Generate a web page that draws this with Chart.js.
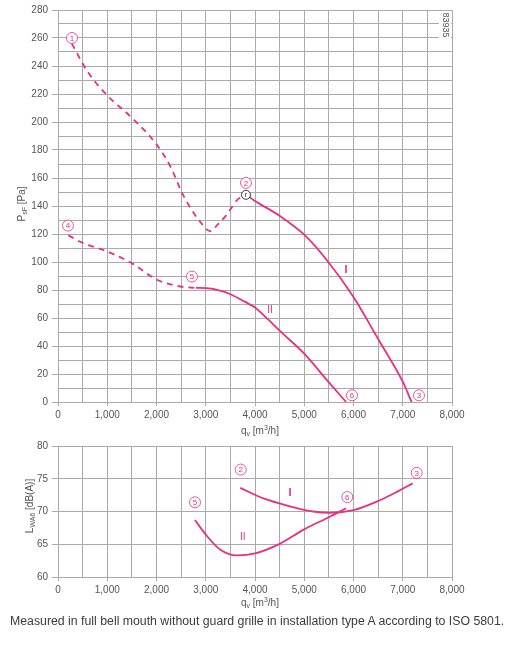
<!DOCTYPE html>
<html>
<head>
<meta charset="utf-8">
<script src="https://cdn.jsdelivr.net/npm/chart.js@4"></script>
<style>
  body { margin: 0; background: #fff; width: 528px; height: 651px; position: relative; overflow: hidden; }
  canvas { position: absolute; left: 0; }
  #top { top: 0; }
  #bottom { top: 435px; }
  #note { position: absolute; left: 10px; top: 614px; font: 12.3px "Liberation Sans", Arial, sans-serif; color: #3c3c3c; white-space: nowrap; }
</style>
</head>
<body>
<canvas id="top" width="528" height="440"></canvas>
<canvas id="bottom" width="528" height="180"></canvas>
<div id="note">Measured in full bell mouth without guard grille in installation type A according to ISO 5801.</div>
<script>
// pressure curves (q_v m3/h, p_sF Pa)
const curve1Dashed = [[280,256],[600,236],[1000,219],[1500,203],[2000,184],[2300,167],[2510,150],[2650,141],[2880,129],[3090,122],[3250,127],[3430,134],[3630,144],[3820,148]];
const curve1Solid = [[3820,148],[4000,143.6],[4500,133],[5000,119.5],[5500,99.5],[6000,75],[6500,45],[7000,14.5],[7180,0]];
const curve2Dashed = [[210,119],[510,113.5],[1000,107.5],[1530,98.5],[2000,87.5],[2480,82.5],[2800,81.5]];
const curve2Solid = [[2800,81.5],[3020,81.3],[3290,79.6],[3500,77],[3800,71.5],[4000,67.5],[4250,59.5],[4500,51],[5000,34.5],[5500,14],[5850,0]];

// sound power curves (q_v m3/h, L_WA6 dB(A))
const sound1 = [[3700,73.6],[4170,72],[4710,70.8],[5180,70],[5520,69.8],[6000,70.2],[6470,71.5],[6880,73],[7200,74.3]];
const sound2 = [[2780,68.7],[3020,66.3],[3290,64.2],[3630,63.3],[4000,63.6],[4510,65.1],[4980,67.2],[5520,69.2],[5850,70.5]];

// marker labels [text, x, y]
const topMarks = [['1',284,260],['2',3817,156.5],['3',7330,4.8],['4',203,126],['5',2720,89.6],['6',5970,4.8]];
const topRoman = [['I',5848,94.6],['II',4305,65.4]];
const bottomMarks = [['2',3709,76.4],['5',2782,71.4],['6',5874,72.2],['3',7283,75.9]];
const bottomRoman = [['I',4711,72.8],['II',3750,66]];

const pink = '#e8307f';
const gridColor = '#aaaaaa';
const tickColor = '#555';
const font = '"Liberation Sans", Arial, sans-serif';

function toXY(arr) { return arr.map(p => ({ x: p[0], y: p[1] })); }

function line(data, dashed) {
  return {
    data: toXY(data),
    borderColor: pink,
    borderWidth: 1.8,
    borderDash: dashed ? [6, 5] : [],
    pointRadius: 0,
    tension: 0.4,
    cubicInterpolationMode: 'monotone',
    fill: false
  };
}

function fmt(v) { return v === 0 ? '0' : v.toLocaleString('en-US'); }

function drawSub(ctx, x, y, parts) {
  // parts: [text, isSub]
  let cx = x;
  parts.forEach(p => {
    ctx.font = (p[1] ? '7px ' : '10px ') + font;
    ctx.fillText(p[0], cx, y + (p[1] ? 3 : 0));
    cx += ctx.measureText(p[0]).width;
  });
  return cx - x;
}

function partsWidth(ctx, parts) {
  let w = 0;
  parts.forEach(p => { ctx.font = (p[1] ? '7px ' : '10px ') + font; w += ctx.measureText(p[0]).width; });
  return w;
}

const decor = {
  id: 'decor',
  afterDatasetsDraw(chart, args, o) {
    const ctx = chart.ctx, xs = chart.scales.x, ys = chart.scales.y;
    ctx.save();
    ctx.textAlign = 'left';
    ctx.textBaseline = 'middle';
    ctx.fillStyle = tickColor;
    // x title
    const xp = [['q', false], ['v', true], [' [m', false], ['3', 'sup'], ['/h]', false]];
    let cx = 241, cy = o.xTitleY;
    xp.forEach(p => {
      const small = p[1] === true || p[1] === 'sup';
      ctx.font = (small ? '7px ' : '10px ') + font;
      const dy = p[1] === true ? 3 : (p[1] === 'sup' ? -3 : 0);
      ctx.fillText(p[0], cx, cy + dy);
      cx += ctx.measureText(p[0]).width;
    });
    // y title (rotated)
    ctx.save();
    const w = partsWidth(ctx, o.yTitle);
    ctx.translate(o.yTitleX, o.yTitleMid);
    ctx.rotate(-Math.PI / 2);
    drawSub(ctx, -w / 2, 0, o.yTitle);
    ctx.restore();

    // circled numbers
    o.marks.forEach(m => {
      const px = xs.getPixelForValue(m[1]), py = ys.getPixelForValue(m[2]);
      ctx.beginPath();
      ctx.arc(px, py, 5.5, 0, Math.PI * 2);
      ctx.fillStyle = '#fff';
      ctx.fill();
      ctx.strokeStyle = pink;
      ctx.lineWidth = 0.8;
      ctx.stroke();
      ctx.fillStyle = pink;
      ctx.font = '8px ' + font;
      ctx.textAlign = 'center';
      ctx.fillText(m[0], px, py + 0.5);
    });
    // roman numerals
    o.roman.forEach(m => {
      const px = xs.getPixelForValue(m[1]), py = ys.getPixelForValue(m[2]);
      ctx.fillStyle = pink;
      ctx.font = (m[0] === 'I' ? 'bold 11px ' : '10px ') + font;
      ctx.textAlign = 'center';
      ctx.fillText(m[0], px, py);
    });
    // operating point marker
    if (o.rPoint) {
      const px = xs.getPixelForValue(o.rPoint[0]), py = ys.getPixelForValue(o.rPoint[1]);
      ctx.beginPath();
      ctx.arc(px, py, 4.5, 0, Math.PI * 2);
      ctx.fillStyle = '#fff';
      ctx.fill();
      ctx.strokeStyle = '#222';
      ctx.lineWidth = 0.9;
      ctx.stroke();
      ctx.fillStyle = '#222';
      ctx.font = '7px ' + font;
      ctx.textAlign = 'center';
      ctx.fillText('r', px, py);
    }
    // drawing number
    if (o.code) {
      ctx.save();
      ctx.fillStyle = '#fff';
      ctx.fillRect(439, 11, 12, 28);
      ctx.translate(445, 25);
      ctx.rotate(Math.PI / 2);
      ctx.fillStyle = '#555';
      ctx.font = '9px ' + font;
      ctx.textAlign = 'center';
      ctx.fillText('83935', 0, 0);
      ctx.restore();
    }
    ctx.restore();
  }
};

function makeChart(id, datasets, yMin, yMax, yStep, yLabelStep, padTop, opts) {
  return new Chart(document.getElementById(id), {
    type: 'line',
    data: { datasets: datasets },
    plugins: [decor],
    options: {
      responsive: false,
      animation: false,
      layout: { padding: { top: padTop, right: 76, left: 0, bottom: 0 } },
      plugins: { legend: { display: false }, tooltip: { enabled: false }, decor: opts },
      scales: {
        x: {
          type: 'linear', min: 0, max: 8000,
          afterFit: s => { s.height = 38; },
          ticks: {
            stepSize: 500, autoSkip: false, maxRotation: 0, color: tickColor, padding: 3,
            font: { family: font, size: 10 },
            callback: v => v % 1000 === 0 ? fmt(v) : ''
          },
          grid: {
            color: gridColor, lineWidth: 1, tickLength: 4,
            tickColor: c => (c.tick && c.tick.value % 1000 === 0) ? gridColor : 'rgba(0,0,0,0)'
          },
          border: { color: gridColor }
        },
        y: {
          min: yMin, max: yMax,
          afterFit: s => { s.width = 58; },
          ticks: {
            stepSize: yStep, autoSkip: false, color: tickColor, padding: 4,
            font: { family: font, size: 10 },
            callback: v => v % yLabelStep === 0 ? String(v) : ''
          },
          grid: {
            color: gridColor, lineWidth: 1, tickLength: 6,
            tickColor: c => (c.tick && c.tick.value % yLabelStep === 0) ? gridColor : 'rgba(0,0,0,0)'
          },
          border: { color: gridColor }
        }
      }
    }
  });
}

makeChart('top', [line(curve1Dashed, true), line(curve1Solid, false), line(curve2Dashed, true), line(curve2Solid, false)],
  0, 280, 10, 20, 9, {
    xTitleY: 431, yTitle: [['P', false], ['sF', true], [' [Pa]', false]], yTitleX: 22, yTitleMid: 204,
    marks: topMarks, roman: topRoman, rPoint: [3817, 148], code: true
  });

makeChart('bottom', [line(sound1, false), line(sound2, false)],
  60, 80, 5, 5, 11, {
    xTitleY: 168, yTitle: [['L', false], ['WA6', true], [' [dB(A)]', false]], yTitleX: 30, yTitleMid: 71,
    marks: bottomMarks, roman: bottomRoman, rPoint: null, code: false
  });
</script>
</body>
</html>
